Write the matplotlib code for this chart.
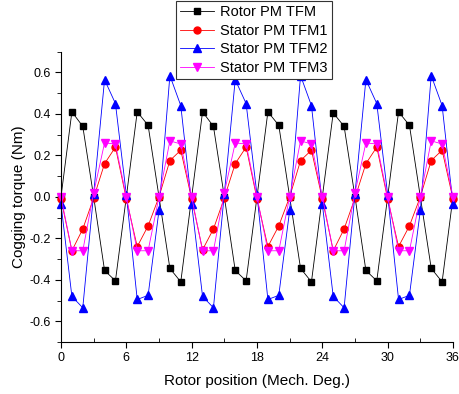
import numpy as np
import matplotlib
matplotlib.use("Agg")
import matplotlib.pyplot as plt
from matplotlib.ticker import MultipleLocator

plt.rcParams['font.family'] = ['Liberation Sans', 'DejaVu Sans']

position = list(range(37))

rotor_tfm = [0.0, 0.41, 0.34, 0.0, -0.355, -0.405, 0.0, 0.41, 0.345, 0.0, -0.345, -0.41,
             0.0, 0.41, 0.34, 0.0, -0.355, -0.405, 0.0, 0.41, 0.345, 0.0, -0.345, -0.41,
             0.0, 0.405, 0.34, 0.0, -0.355, -0.405, 0.0, 0.41, 0.345, 0.0, -0.345, -0.41,
             0.0]
stator_tfm1 = [-0.01, -0.26, -0.155, -0.005, 0.16, 0.24, -0.01, -0.24, -0.14, 0.0, 0.175, 0.225,
               -0.01, -0.255, -0.155, -0.005, 0.16, 0.24, -0.01, -0.24, -0.14, 0.0, 0.175, 0.225,
               -0.01, -0.26, -0.155, -0.005, 0.16, 0.24, -0.01, -0.24, -0.14, 0.0, 0.175, 0.225,
               -0.01]
stator_tfm2 = [-0.035, -0.48, -0.535, 0.015, 0.565, 0.45, 0.01, -0.495, -0.475, -0.065, 0.585, 0.44,
               -0.035, -0.48, -0.535, 0.015, 0.565, 0.45, 0.01, -0.495, -0.475, -0.065, 0.585, 0.44,
               -0.035, -0.48, -0.535, 0.015, 0.565, 0.45, 0.01, -0.495, -0.475, -0.065, 0.585, 0.44,
               -0.035]
stator_tfm3 = [0.0, -0.26, -0.26, 0.02, 0.26, 0.255, 0.0, -0.26, -0.26, 0.0, 0.27, 0.255,
               0.0, -0.26, -0.26, 0.02, 0.26, 0.255, 0.0, -0.26, -0.26, 0.0, 0.27, 0.255,
               0.0, -0.26, -0.26, 0.02, 0.26, 0.255, 0.0, -0.26, -0.26, 0.0, 0.27, 0.255,
               0.0]

fig = plt.figure(figsize=(4.59, 3.94), dpi=100)
ax = fig.add_axes([61/459, 1-342/394, (453-61)/459, (342-51.7)/394])

ax.plot(position, rotor_tfm, '-s', color='k', lw=0.6, ms=4.5, label='Rotor PM TFM', clip_on=False)
ax.plot(position, stator_tfm1, '-o', color='red', lw=0.6, ms=5, label='Stator PM TFM1', clip_on=False)
ax.plot(position, stator_tfm2, '-^', color='blue', lw=0.6, ms=5.5, label='Stator PM TFM2', clip_on=False)
ax.plot(position, stator_tfm3, '-v', color='magenta', lw=0.6, ms=5.5, label='Stator PM TFM3', clip_on=False)

ax.set_xlim(0, 36)
ax.set_ylim(-0.7, 0.7)
ax.xaxis.set_major_locator(MultipleLocator(6))
ax.xaxis.set_minor_locator(MultipleLocator(3))
ax.yaxis.set_major_locator(MultipleLocator(0.2))
ax.yaxis.set_minor_locator(MultipleLocator(0.1))
ax.yaxis.set_major_formatter(matplotlib.ticker.FormatStrFormatter('%.1f'))
ax.spines['top'].set_visible(False)
ax.spines['right'].set_visible(False)
ax.tick_params(axis='x', which='major', direction='out', length=4, labelsize=9)
ax.tick_params(axis='x', which='minor', direction='in', length=3)
ax.tick_params(axis='y', which='major', direction='out', length=4, labelsize=9)
ax.tick_params(axis='y', which='minor', direction='out', length=3)

ax.set_xlabel('Rotor position (Mech. Deg.)', fontsize=11, labelpad=7)
ax.set_ylabel('Cogging torque (Nm)', fontsize=11, labelpad=2)

leg = fig.legend(loc='lower left', bbox_to_anchor=(176/459, 1-79/394), fontsize=10.5,
                 fancybox=False, edgecolor='#333333', framealpha=1, handlelength=2.3,
                 borderpad=0.3, labelspacing=0.3, handletextpad=0.45, borderaxespad=0)
leg.get_frame().set_linewidth(0.8)

plt.savefig('out.png', dpi=100)
